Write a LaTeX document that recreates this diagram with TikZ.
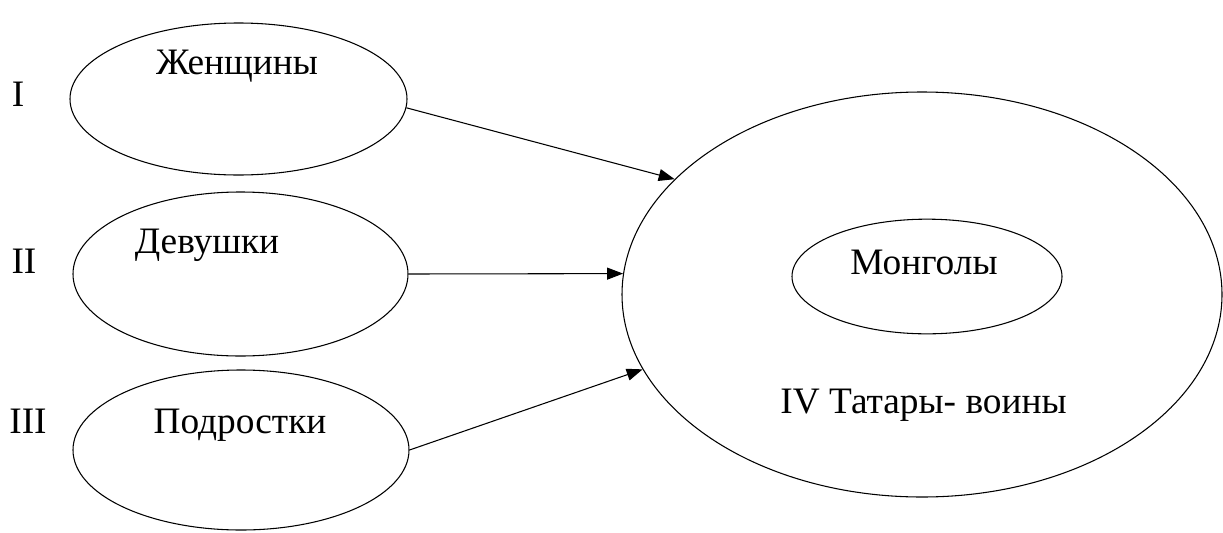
\documentclass[tikz,border=0pt]{standalone}
\usepackage{fontspec}
\setmainfont{Liberation Serif}
\usetikzlibrary{shapes.geometric,arrows.meta}

\begin{document}
\begin{tikzpicture}[x=0.75pt, y=-0.75pt, >={Triangle[length=12pt, width=9pt]},
    font=\fontsize{28}{34}\selectfont,
    oval/.style={draw, ellipse, line width=0.8pt, inner sep=0pt}]
    \useasboundingbox (0,0) rectangle (1223,532);
    % three groups on the left
    \node[oval, minimum width=252.75pt, minimum height=114pt] (women) at (238.5,99) {};
    \node[oval, minimum width=251.25pt, minimum height=123pt] (girls) at (240.5,274) {};
    \node[oval, minimum width=252pt, minimum height=120pt] (teens) at (241,450) {};
    \node[anchor=base] (womentext) at (237,74) {Женщины};
    \node[anchor=base] (girlstext) at (207,253) {Девушки};
    \node[anchor=base] (teenstext) at (240,433) {Подростки};
    \node[anchor=base] (one) at (18,106) {I};
    \node[anchor=base] (two) at (24,273) {II};
    \node[anchor=base] (three) at (28,433) {III};
    % big group on the right
    \node[oval, minimum width=450pt, minimum height=303.75pt] (tatars) at (922,294.5) {};
    \node[oval, minimum width=202.5pt, minimum height=86pt] (mongols) at (927,276.5) {};
    \node[anchor=base] (mongolstext) at (924,274) {Монголы};
    \node[anchor=base] (tatarstext) at (923.5,413) {IV Татары- воины};
    \draw[->, line width=0.8pt] (women.-3) -- (tatars.155);
    \draw[->, line width=0.8pt] (girls.east) -- (tatars.176);
    \draw[->, line width=0.8pt] (teens.east) -- (tatars.195);
\end{tikzpicture}
\end{document}
